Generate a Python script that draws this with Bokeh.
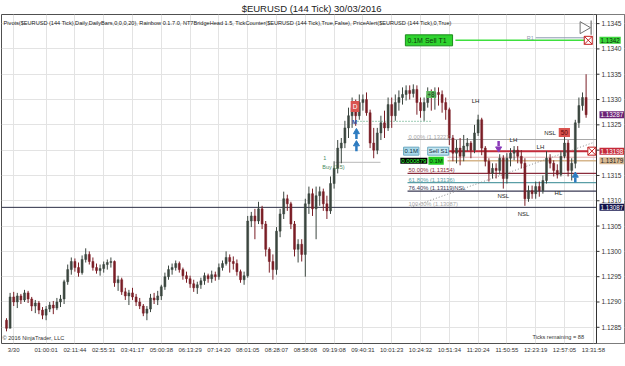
import math
from bokeh.plotting import figure
from bokeh.models import Label, Span, FixedTicker, ColumnDataSource, Range1d
from bokeh.core.properties import value
from bokeh.embed import file_html
from bokeh.resources import INLINE

FONT = "Liberation Sans"

title_text = "$EURUSD (144 Tick)  30/03/2016"
indicators_text = ("Pivots($EURUSD (144 Tick),Daily,DailyBars,0,0,0,20), Rainbow 0.1.7.0, NT7BridgeHead 1.5, "
                   "TickCounter($EURUSD (144 Tick),True,False), PriceAlert($EURUSD (144 Tick),0,True)")

tick_bars = [2, 11, 19, 27, 35, 43, 51, 59, 67, 75, 83, 91, 99, 107, 115, 123, 131, 139, 147, 155, 163]
tick_labels = ["3/30", "01:00:01", "02:11:44", "02:55:31", "03:41:17", "05:00:38", "06:13:29", "07:14:20",
               "08:01:05", "08:28:07", "08:58:08", "09:19:08", "09:40:31", "10:01:23", "10:24:32", "10:51:34",
               "11:20:24", "11:50:55", "12:23:19", "12:57:05", "13:31:58"]
y_ticks = [1.1285, 1.1290, 1.1295, 1.1300, 1.1305, 1.1310, 1.1315, 1.1320, 1.1325, 1.1330, 1.1335, 1.1340, 1.1345]

first_open = 1.12864
high = [1.12868, 1.12918, 1.12920, 1.12918, 1.12916, 1.12924, 1.12922, 1.12910, 1.12904, 1.12902,
        1.12890, 1.12892, 1.12900, 1.12902, 1.12908, 1.12914, 1.12944, 1.12974, 1.12988, 1.12986,
        1.12978, 1.12992, 1.13006, 1.13000, 1.12988, 1.12976, 1.12974, 1.12980, 1.12984, 1.12988,
        1.12982, 1.12952, 1.12948, 1.12928, 1.12924, 1.12928, 1.12916, 1.12908, 1.12896, 1.12892,
        1.12916, 1.12918, 1.12922, 1.12934, 1.12958, 1.12972, 1.12976, 1.12982, 1.12980, 1.12968,
        1.12960, 1.12952, 1.12944, 1.12940, 1.12948, 1.12958, 1.12956, 1.12962, 1.12960, 1.12976,
        1.12982, 1.13000, 1.12994, 1.12990, 1.12984, 1.12964, 1.12960, 1.13070, 1.13078, 1.13084,
        1.13098, 1.13090, 1.13060, 1.13008, 1.12994, 1.13048, 1.13084, 1.13118, 1.13112, 1.13098,
        1.13060, 1.13024, 1.13024, 1.13104, 1.13128, 1.13124, 1.13128, 1.13128, 1.13124, 1.13110,
        1.13148, 1.13178, 1.13220, 1.13224, 1.13258, 1.13284, 1.13304, 1.13300, 1.13310, 1.13310,
        1.13314, 1.13280, 1.13244, 1.13244, 1.13268, 1.13278, 1.13304, 1.13304, 1.13310, 1.13318,
        1.13324, 1.13328, 1.13328, 1.13330, 1.13328, 1.13304, 1.13304, 1.13324, 1.13320, 1.13324,
        1.13324, 1.13318, 1.13304, 1.13284, 1.13230, 1.13220, 1.13224, 1.13230, 1.13224, 1.13218,
        1.13250, 1.13270, 1.13264, 1.13208, 1.13184, 1.13174, 1.13174, 1.13192, 1.13190, 1.13194,
        1.13204, 1.13208, 1.13208, 1.13200, 1.13184, 1.13130, 1.13130, 1.13138, 1.13138, 1.13150,
        1.13198, 1.13192, 1.13180, 1.13172, 1.13198, 1.13238, 1.13220, 1.13184, 1.13260, 1.13304,
        1.13314, 1.13350]
low = [1.12842, 1.12864, 1.12892, 1.12888, 1.12896, 1.12900, 1.12898, 1.12882, 1.12878, 1.12876,
       1.12866, 1.12864, 1.12880, 1.12876, 1.12884, 1.12890, 1.12896, 1.12934, 1.12954, 1.12960,
       1.12950, 1.12954, 1.12978, 1.12974, 1.12962, 1.12956, 1.12952, 1.12958, 1.12964, 1.12968,
       1.12930, 1.12922, 1.12914, 1.12904, 1.12894, 1.12904, 1.12892, 1.12886, 1.12872, 1.12864,
       1.12880, 1.12896, 1.12894, 1.12904, 1.12924, 1.12944, 1.12954, 1.12962, 1.12958, 1.12944,
       1.12938, 1.12928, 1.12920, 1.12916, 1.12926, 1.12934, 1.12938, 1.12938, 1.12942, 1.12944,
       1.12962, 1.12972, 1.12958, 1.12964, 1.12952, 1.12938, 1.12934, 1.12948, 1.13048, 1.13024,
       1.13054, 1.13044, 1.12990, 1.12958, 1.12944, 1.12954, 1.13028, 1.13064, 1.13080, 1.13044,
       1.12990, 1.12978, 1.12980, 1.12950, 1.13074, 1.13070, 1.13024, 1.13090, 1.13080, 1.13064,
       1.13074, 1.13124, 1.13154, 1.13174, 1.13204, 1.13224, 1.13244, 1.13248, 1.13260, 1.13278,
       1.13268, 1.13204, 1.13184, 1.13192, 1.13220, 1.13224, 1.13238, 1.13244, 1.13258, 1.13278,
       1.13290, 1.13298, 1.13300, 1.13304, 1.13270, 1.13264, 1.13258, 1.13284, 1.13278, 1.13280,
       1.13288, 1.13274, 1.13260, 1.13210, 1.13178, 1.13174, 1.13170, 1.13178, 1.13198, 1.13184,
       1.13194, 1.13228, 1.13190, 1.13168, 1.13138, 1.13144, 1.13144, 1.13152, 1.13124, 1.13134,
       1.13168, 1.13180, 1.13174, 1.13164, 1.13090, 1.13098, 1.13104, 1.13104, 1.13108, 1.13114,
       1.13134, 1.13164, 1.13148, 1.13144, 1.13148, 1.13184, 1.13148, 1.13140, 1.13164, 1.13244,
       1.13278, 1.13264]
close = [1.12848, 1.12910, 1.12900, 1.12912, 1.12904, 1.12918, 1.12906, 1.12892, 1.12898, 1.12884,
         1.12874, 1.12886, 1.12894, 1.12888, 1.12900, 1.12906, 1.12940, 1.12964, 1.12980, 1.12968,
         1.12958, 1.12984, 1.12994, 1.12980, 1.12968, 1.12962, 1.12966, 1.12974, 1.12978, 1.12980,
         1.12938, 1.12944, 1.12920, 1.12912, 1.12918, 1.12910, 1.12900, 1.12892, 1.12878, 1.12886,
         1.12908, 1.12904, 1.12912, 1.12930, 1.12950, 1.12964, 1.12968, 1.12976, 1.12964, 1.12952,
         1.12946, 1.12936, 1.12928, 1.12934, 1.12942, 1.12952, 1.12946, 1.12954, 1.12950, 1.12968,
         1.12976, 1.12988, 1.12980, 1.12976, 1.12960, 1.12944, 1.12952, 1.13060, 1.13070, 1.13060,
         1.13084, 1.13054, 1.13004, 1.12980, 1.12964, 1.13040, 1.13074, 1.13104, 1.13094, 1.13054,
         1.13004, 1.13014, 1.12994, 1.13094, 1.13114, 1.13084, 1.13110, 1.13118, 1.13094, 1.13080,
         1.13134, 1.13164, 1.13204, 1.13214, 1.13244, 1.13268, 1.13284, 1.13268, 1.13294, 1.13300,
         1.13274, 1.13214, 1.13200, 1.13234, 1.13254, 1.13244, 1.13290, 1.13268, 1.13294, 1.13304,
         1.13310, 1.13318, 1.13312, 1.13320, 1.13294, 1.13278, 1.13294, 1.13308, 1.13304, 1.13314,
         1.13310, 1.13294, 1.13280, 1.13224, 1.13194, 1.13204, 1.13188, 1.13208, 1.13214, 1.13200,
         1.13234, 1.13260, 1.13204, 1.13178, 1.13154, 1.13164, 1.13160, 1.13184, 1.13144, 1.13184,
         1.13194, 1.13200, 1.13188, 1.13174, 1.13104, 1.13120, 1.13114, 1.13128, 1.13120, 1.13140,
         1.13184, 1.13174, 1.13160, 1.13152, 1.13188, 1.13214, 1.13160, 1.13174, 1.13254, 1.13288,
         1.13304, 1.13270]
open_ = [first_open] + close[:-1]

fib_pct = ["0.00%", "50.00%", "61.80%", "76.40%", "100.00%"]
fib_price = [1.13221, 1.13154, 1.13136, 1.13119, 1.13087]
fib_color = ["#a8a8a8", "#8a2c3c", "#5a9ea6", "#3a3a55", "#a8a8a8"]

marker_text = ["1.1342", "1.13287", "1.13198", "1.13179", "1.13087"]
marker_price = [1.13417, 1.13270, 1.13198, 1.13179, 1.13087]
marker_bg = ["#3bd63b", "#6b2275", "#c52a3a", "#d9b992", "#12124a"]
marker_fg = ["#0a2a0a", "white", "white", "#222222", "white"]

sell_t1_price = 1.13417
pivot_r1_price = 1.13422
sell_s1_price = 1.13198
buy_price = 1.13179

PX = 3.6                      # pixels per bar
X0 = -1.39                    # left edge of frame, in bars
X1 = X0 + 623 / PX            # frame spans the price-axis strip too
XR = X0 + 595 / PX            # right edge of the bar area / price-axis line
Y0, Y1 = 1.12818, 1.13468

p = figure(width=625, height=366, x_range=Range1d(X0, X1), y_range=Range1d(Y0, Y1),
           y_axis_location=None, output_backend="svg", toolbar_location=None,
           min_border_left=1, min_border_right=1, min_border_top=0, min_border_bottom=23)
p.title.text = title_text
p.title.align = "center"
p.title.text_font = FONT
p.title.text_font_size = "9.5px"
p.title.text_font_style = "normal"
p.title.text_color = "#222222"
p.title.standoff = 1
p.outline_line_color = "#505050"
p.background_fill_color = "white"
p.border_fill_color = "white"

xax = p.xaxis[0]
xax.ticker = FixedTicker(ticks=tick_bars)
xax.major_label_overrides = {b: t for b, t in zip(tick_bars, tick_labels)}
xax.major_label_text_font = FONT
xax.major_label_text_font_size = "6px"
xax.major_label_text_color = "#333333"
xax.major_tick_out = 0
xax.major_tick_in = 0
xax.minor_tick_line_color = None
xax.axis_line_color = None
xax.major_label_standoff = 3

p.xgrid.ticker = FixedTicker(ticks=tick_bars)
p.ygrid.ticker = FixedTicker(ticks=y_ticks)
p.xgrid.grid_line_color = "#e3e3e3"
p.ygrid.grid_line_color = "#e3e3e3"

UP, DOWN = "#3b463f", "#7a1e26"
idx = list(range(len(close)))
cols = [UP if c >= o else DOWN for o, c in zip(open_, close)]
src = ColumnDataSource(dict(x=idx, h=high, l=low,
                            top=[max(o, c) for o, c in zip(open_, close)],
                            bot=[min(o, c) for o, c in zip(open_, close)], col=cols))

# level lines drawn beneath bars
p.add_layout(Span(location=fib_price[4], dimension="width", line_color="#2b2d45", line_width=1, level="underlay"))
for pr, c in zip(fib_price[:4], fib_color[:4]):
    p.segment(x0=111.4, y0=pr, x1=XR, y1=pr, line_color=c, line_width=1.2)
p.segment(x0=122.5, y0=1.13186, x1=XR, y1=1.13186, line_color="#e6b0b0", line_width=1)
p.segment(x0=122.5, y0=buy_price, x1=XR, y1=buy_price, line_color="#d6b68c", line_width=1.6)
p.segment(x0=122.5, y0=sell_s1_price, x1=162.6, y1=sell_s1_price, line_color="#c42c3c", line_width=2)
p.segment(x0=124.7, y0=sell_t1_price, x1=161.6, y1=sell_t1_price, line_color="#3ee03e", line_width=1.6)
p.segment(x0=147.0, y0=pivot_r1_price, x1=161.6, y1=pivot_r1_price, line_color="#8c9ab0", line_width=1)
p.segment(x0=112.2, y0=1.13087, x1=163.0, y1=1.13215, line_color="#8a8a8a", line_width=1, line_dash="1 2")
p.segment(x0=97.5, y0=1.13257, x1=117.8, y1=1.13257, line_color="#3a9a6a", line_width=1, line_dash="1 2")
p.segment(x0=91.4, y0=1.13176, x1=103.9, y1=1.13176, line_color="#b8b8b8", line_width=1)

# candles
p.segment(x0="x", y0="h", x1="x", y1="l", line_color="col", line_width=1, source=src)
p.vbar(x="x", width=0.55, top="top", bottom="bot", fill_color="col", line_color="col", line_width=0.5, source=src)

# price axis strip on the right
p.quad(left=[XR], right=[X1], bottom=[Y0], top=[Y1], fill_color="white", line_color=None)
p.segment(x0=[XR], y0=[Y0], x1=[XR], y1=[Y1], line_color="#333333", line_width=1)
p.segment(x0=[XR] * len(y_ticks), y0=y_ticks, x1=[XR + 3 / PX] * len(y_ticks), y1=y_ticks,
          line_color="#333333", line_width=1)
p.text(x=[XR + 5 / PX] * len(y_ticks), y=y_ticks, text=[f"{t:.4f}" for t in y_ticks],
       text_font=value(FONT), text_font_size=value("6.5px"), text_color="#333333",
       text_baseline="middle", text_align="left")


def txt(x, y, s, color="#222222", size="6px", align="left", baseline="middle", bold=False):
    p.text(x=[x], y=[y], text=[s], text_font=value(FONT), text_font_size=value(size),
           text_color=color, text_align=align, text_baseline=baseline,
           text_font_style="bold" if bold else "normal")


def box(x, y, s, bg, fg, border=None, size="6px", align="left", pad=1):
    p.add_layout(Label(x=x, y=y, text=s, text_font=FONT, text_font_size=size, text_color=fg,
                       text_align=align, text_baseline="middle", background_fill_color=bg,
                       border_line_color=border, padding=pad))


# fib labels
for pct, pr, c in zip(fib_pct, fib_price, fib_color):
    lab = f"{pct} ({pr:.5f})" + ("NSL" if pct == "76.40%" else "")
    txt(111.7, pr, lab, color=c, size="5.8px", baseline="bottom")

# order / alert boxes
box(110.8, sell_t1_price, "0.1M   Sell T1", "#2fd42f", "#0b3b0b", border="#1c8c1c", size="7px", pad=2)
box(110.3, sell_s1_price, "0.1M", "#a9d9ea", "#123040", border="#6aa8c0")
box(117.0, sell_s1_price, "Sell S1", "#c4e6f2", "#123040", border="#6aa8c0")
box(109.4, buy_price, "0.000879", "#000000", "#3cff3c")
box(117.2, buy_price, "0.1M", "#22cc22", "#0a2a0a")
txt(146.5, pivot_r1_price, "R1", color="#8c9ab0", size="5.5px", align="right")
p.scatter(x=[161.6, 162.6], y=[sell_t1_price, sell_s1_price], marker="square_x", size=8,
          line_color="#c42020", fill_color="white", line_width=1)

# price markers on axis
for s, pr, bg, fg in zip(marker_text, marker_price, marker_bg, marker_fg):
    box(XR + 3 / PX, pr, s, bg, fg, size="6.3px", pad=1)

# swing labels
txt(130.3, 1.13298, "LH", size="6px", align="center")
txt(140.8, 1.13221, "LH", size="6px", align="center")
txt(148.3, 1.13207, "LH", size="6px", align="center")
txt(138.0, 1.13109, "NSL", size="6px", align="center")
txt(143.6, 1.13073, "NSL", size="6px", align="center")
txt(153.3, 1.13116, "HL", size="6px", align="center")
txt(151.0, 1.13233, "NSL", size="6px", align="center")
box(153.4, 1.13235, "50", "#d9534f", "#5a0a0a", size="6.5px", pad=2)
box(95.6, 1.13286, "D", "#d9534f", "white", size="6.5px", pad=2)
box(116.6, 1.13310, "+8", "#5cb85c", "#1a3a1a", size="6.5px", pad=1)
txt(96.7, 1.13255, "M", color="#2a4a9a", size="6px", align="center", bold=True)
txt(88.0, 1.13184, "1", color="#4a8a60", size="5.5px")
txt(87.7, 1.13166, "Buy (1.5)", color="#4a8a60", size="5.5px")

# arrows
p.segment(x0=[97.2, 97.2, 158.0], y0=[1.13222, 1.13198, 1.13136], x1=[97.2, 97.2, 158.0],
          y1=[1.13232, 1.13208, 1.13146], line_color="#2c7bc0", line_width=2.5)
p.scatter(x=[97.2, 97.2, 158.0], y=[1.13236, 1.13212, 1.13150], marker="triangle", size=6,
          color="#2c7bc0")
p.segment(x0=[136.7], y0=[1.13218], x1=[136.7], y1=[1.13208], line_color="#8a3ab8", line_width=2.5)
p.scatter(x=[136.7], y=[1.13203], marker="inverted_triangle", size=6, color="#8a3ab8")

# play-to-end icon
p.scatter(x=[160.3], y=[1.13442], marker="triangle", angle=-math.pi / 2, size=12,
          fill_color=None, line_color="#707070", line_width=1)
p.segment(x0=[162.4], y0=[1.13428], x1=[162.4], y1=[1.13456], line_color="#707070", line_width=1.2)

# header / footer texts
txt(-0.8, 1.13452, indicators_text, size="5.6px", color="#222222")
txt(-1.1, 1.12829, "\u00a9 2016 NinjaTrader, LLC", size="5.6px", color="#333333")
txt(146.1, 1.12830, "Ticks remaining = 88", size="5.6px", color="#333333")

open("out.html", "w").write(file_html(p, INLINE))
